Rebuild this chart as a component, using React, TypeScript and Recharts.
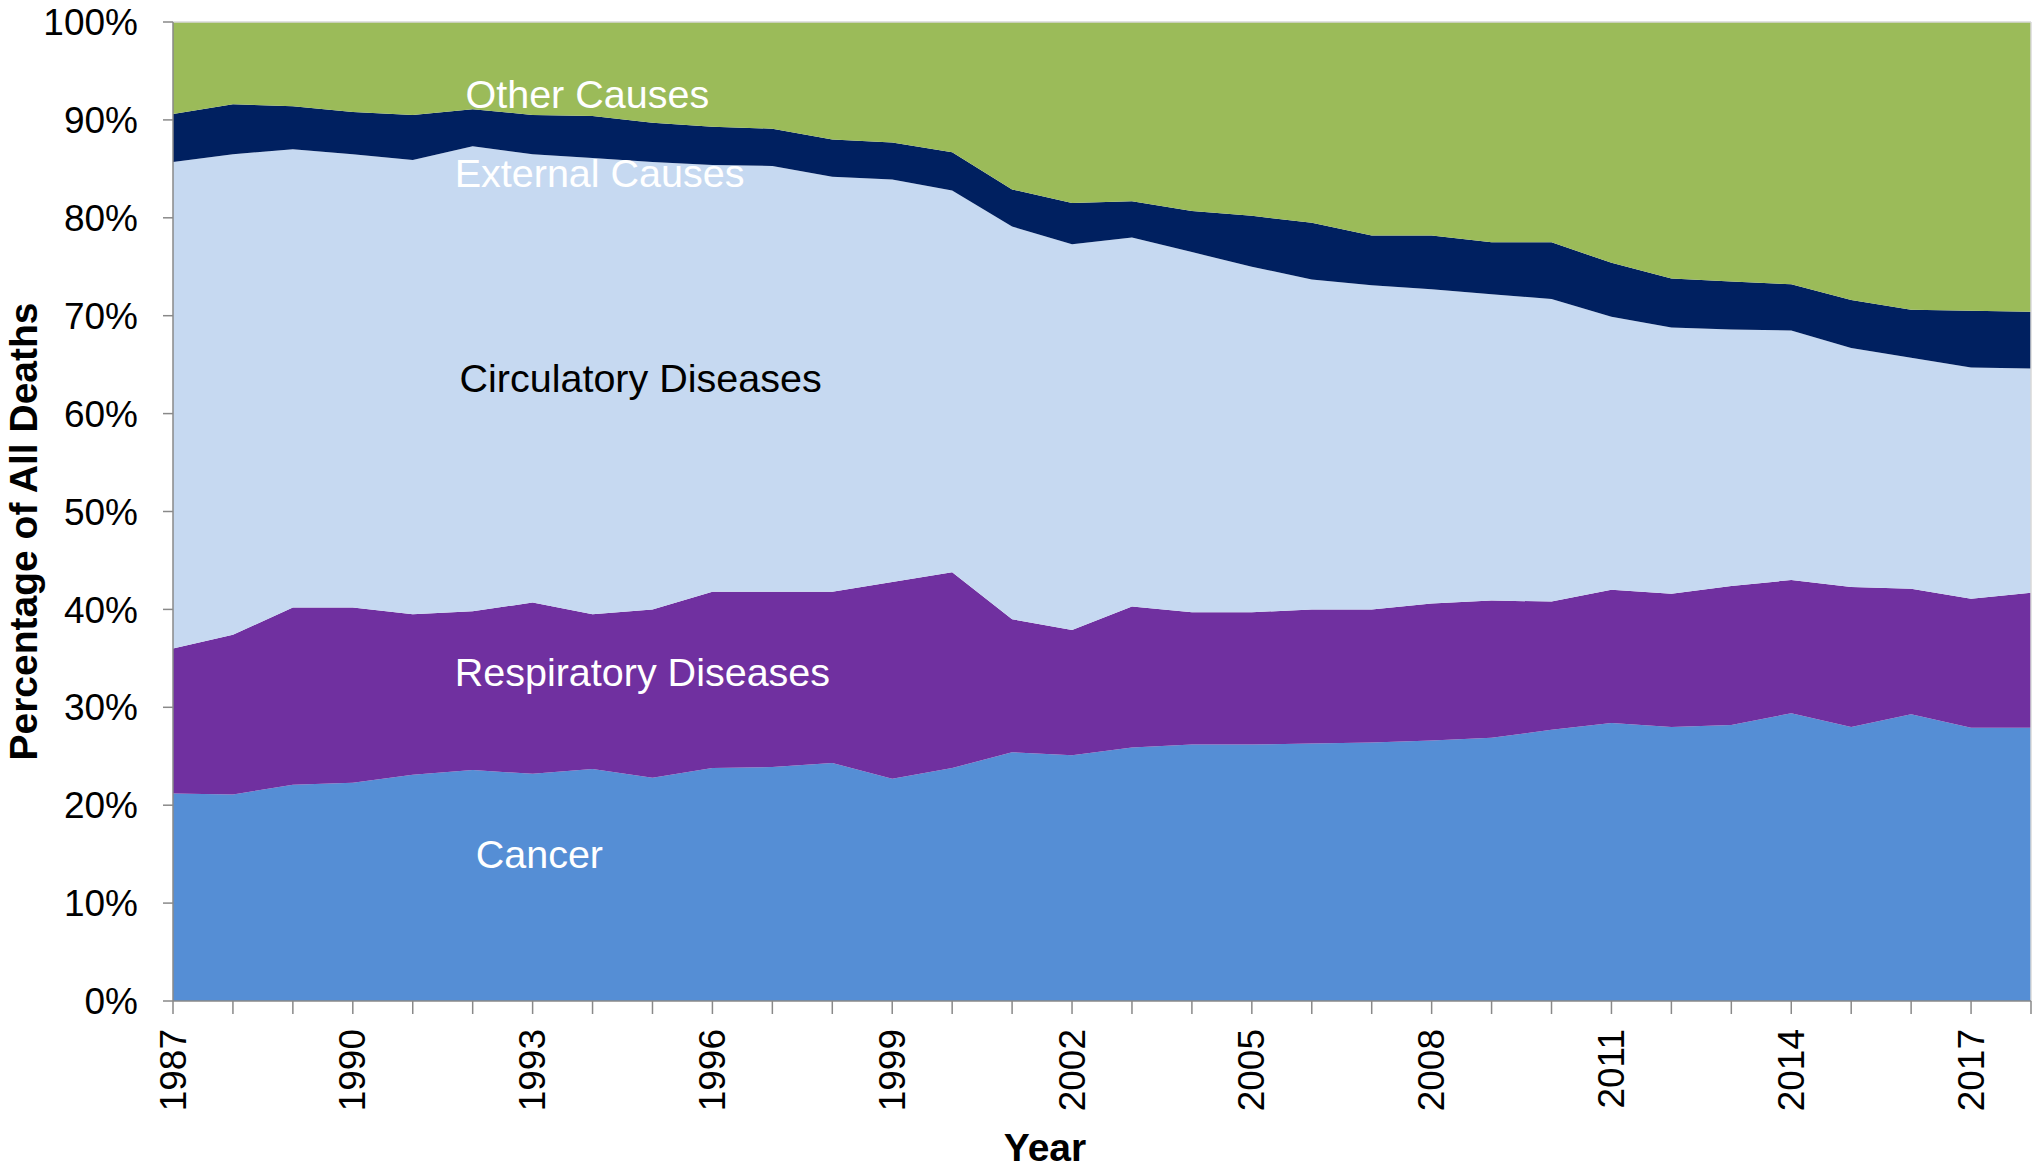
import { AreaChart, Area, XAxis, YAxis, ReferenceDot, ReferenceLine } from 'recharts';

const years = [
  1987, 1988, 1989, 1990, 1991, 1992, 1993, 1994, 1995, 1996, 1997, 1998, 1999, 2000, 2001, 2002,
  2003, 2004, 2005, 2006, 2007, 2008, 2009, 2010, 2011, 2012, 2013, 2014, 2015, 2016, 2017, 2018,
];
const cancer = [
  21.2, 21.1, 22.1, 22.3, 23.1, 23.6, 23.2, 23.7, 22.8, 23.8, 23.9, 24.3, 22.7, 23.8, 25.4, 25.1,
  25.9, 26.2, 26.2, 26.3, 26.4, 26.6, 26.9, 27.7, 28.4, 28.0, 28.2, 29.4, 28.0, 29.3, 27.9, 27.9,
];
const respiratory = [
  14.8, 16.3, 18.1, 17.9, 16.4, 16.2, 17.5, 15.8, 17.2, 18.0, 17.9, 17.5, 20.1, 20.0, 13.6, 12.8,
  14.4, 13.5, 13.5, 13.7, 13.6, 14.0, 14.0, 13.1, 13.6, 13.6, 14.2, 13.6, 14.3, 12.8, 13.2, 13.8,
];
const circulatory = [
  49.7, 49.1, 46.8, 46.3, 46.4, 47.5, 45.8, 46.6, 45.7, 43.6, 43.5, 42.4, 41.1, 39.0, 40.1, 39.4,
  37.7, 36.8, 35.3, 33.7, 33.1, 32.1, 31.3, 30.9, 27.9, 27.2, 26.2, 25.5, 24.4, 23.6, 23.6, 22.9,
];
const external = [
  4.9, 5.1, 4.4, 4.3, 4.6, 3.8, 4.0, 4.3, 4.0, 3.9, 3.8, 3.8, 3.8, 3.9, 3.8, 4.2,
  3.7, 4.2, 5.2, 5.8, 5.1, 5.5, 5.3, 5.8, 5.5, 5.0, 4.9, 4.7, 4.9, 4.9, 5.8, 5.8,
];
const other = [
  9.4, 8.4, 8.6, 9.2, 9.5, 8.9, 9.5, 9.6, 10.3, 10.7, 10.9, 12.0, 12.3, 13.3, 17.1, 18.5,
  18.3, 19.3, 19.8, 20.5, 21.8, 21.8, 22.5, 22.5, 24.6, 26.2, 26.5, 26.8, 28.4, 29.4, 29.5, 29.6,
];
const yTicks = [0, 10, 20, 30, 40, 50, 60, 70, 80, 90, 100];

const data = years.map((year, i) => ({
  year,
  cancer: cancer[i],
  respiratory: respiratory[i],
  circulatory: circulatory[i],
  external: external[i],
  other: other[i],
}));

const FONT = '"Liberation Sans", Arial, sans-serif';
const AXIS = '#898989';

const YearTick = (props: any) => {
  const { x, y, payload } = props;
  if ((payload.value - years[0]) % 3 !== 0) return null;
  return (
    <text
      x={x}
      y={y + 13}
      transform={`rotate(-90 ${x} ${y + 13})`}
      textAnchor="end"
      dominantBaseline="central"
      fontFamily={FONT}
      fontSize={37}
      fill="#000"
    >
      {payload.value}
    </text>
  );
};

const areaText = (text: string, color: string) => (p: any) => (
  <text
    x={p.cx}
    y={p.cy}
    dominantBaseline="central"
    fontFamily={FONT}
    fontSize={39.5}
    fill={color}
  >
    {text}
  </text>
);

export default function App() {
  return (
    <div style={{ position: 'absolute', left: 0, top: 0, width: 2034, height: 1168, background: '#fff' }}>
      <AreaChart width={2034} height={1168} data={data} margin={{ top: 22, right: 3, left: 0, bottom: 0 }}>
        <XAxis
          dataKey="year"
          type="number"
          domain={[1987, 2018]}
          ticks={years}
          interval={0}
          height={167}
          tick={<YearTick />}
          tickSize={13}
          stroke={AXIS}
          strokeWidth={1.5}
          label={(p: any) => (
            <text
              x={p.viewBox.x + p.viewBox.width / 2 - 57}
              y={1147}
              textAnchor="middle"
              dominantBaseline="central"
              fontFamily={FONT}
              fontWeight="bold"
              fontSize={39}
              fill="#000"
            >
              Year
            </text>
          )}
        />
        <YAxis
          type="number"
          domain={[0, 100]}
          ticks={yTicks}
          width={173}
          tickSize={10}
          tickMargin={25}
          tickFormatter={(v: number) => `${v}%`}
          tick={{ fontFamily: FONT, fontSize: 37, fill: '#000' }}
          stroke={AXIS}
          strokeWidth={1.5}
          label={(p: any) => (
            <text
              x={23}
              y={p.viewBox.y + p.viewBox.height / 2 + 20}
              transform={`rotate(-90 23 ${p.viewBox.y + p.viewBox.height / 2 + 20})`}
              textAnchor="middle"
              dominantBaseline="central"
              fontFamily={FONT}
              fontWeight="bold"
              fontSize={39}
              fill="#000"
            >
              Percentage of All Deaths
            </text>
          )}
        />
        <Area type="linear" dataKey="cancer" stackId="1" stroke="none" fill="#558ED5" fillOpacity={1} isAnimationActive={false} />
        <Area type="linear" dataKey="respiratory" stackId="1" stroke="none" fill="#7030A0" fillOpacity={1} isAnimationActive={false} />
        <Area type="linear" dataKey="circulatory" stackId="1" stroke="none" fill="#C6D9F1" fillOpacity={1} isAnimationActive={false} />
        <Area type="linear" dataKey="external" stackId="1" stroke="none" fill="#002060" fillOpacity={1} isAnimationActive={false} />
        <Area type="linear" dataKey="other" stackId="1" stroke="none" fill="#9BBB59" fillOpacity={1} isAnimationActive={false} />
        <ReferenceLine y={100} stroke="#d9d9d9" strokeWidth={1.5} />
        <ReferenceLine x={2018} stroke="#d9d9d9" strokeWidth={1.5} />
        <ReferenceDot x={1991.88} y={92.6} shape={areaText('Other Causes', '#fff')} />
        <ReferenceDot x={1991.7} y={84.6} shape={areaText('External Causes', '#fff')} />
        <ReferenceDot x={1991.78} y={63.6} shape={areaText('Circulatory Diseases', '#000')} />
        <ReferenceDot x={1991.7} y={33.6} shape={areaText('Respiratory Diseases', '#fff')} />
        <ReferenceDot x={1992.05} y={15.0} shape={areaText('Cancer', '#fff')} />
      </AreaChart>
    </div>
  );
}
